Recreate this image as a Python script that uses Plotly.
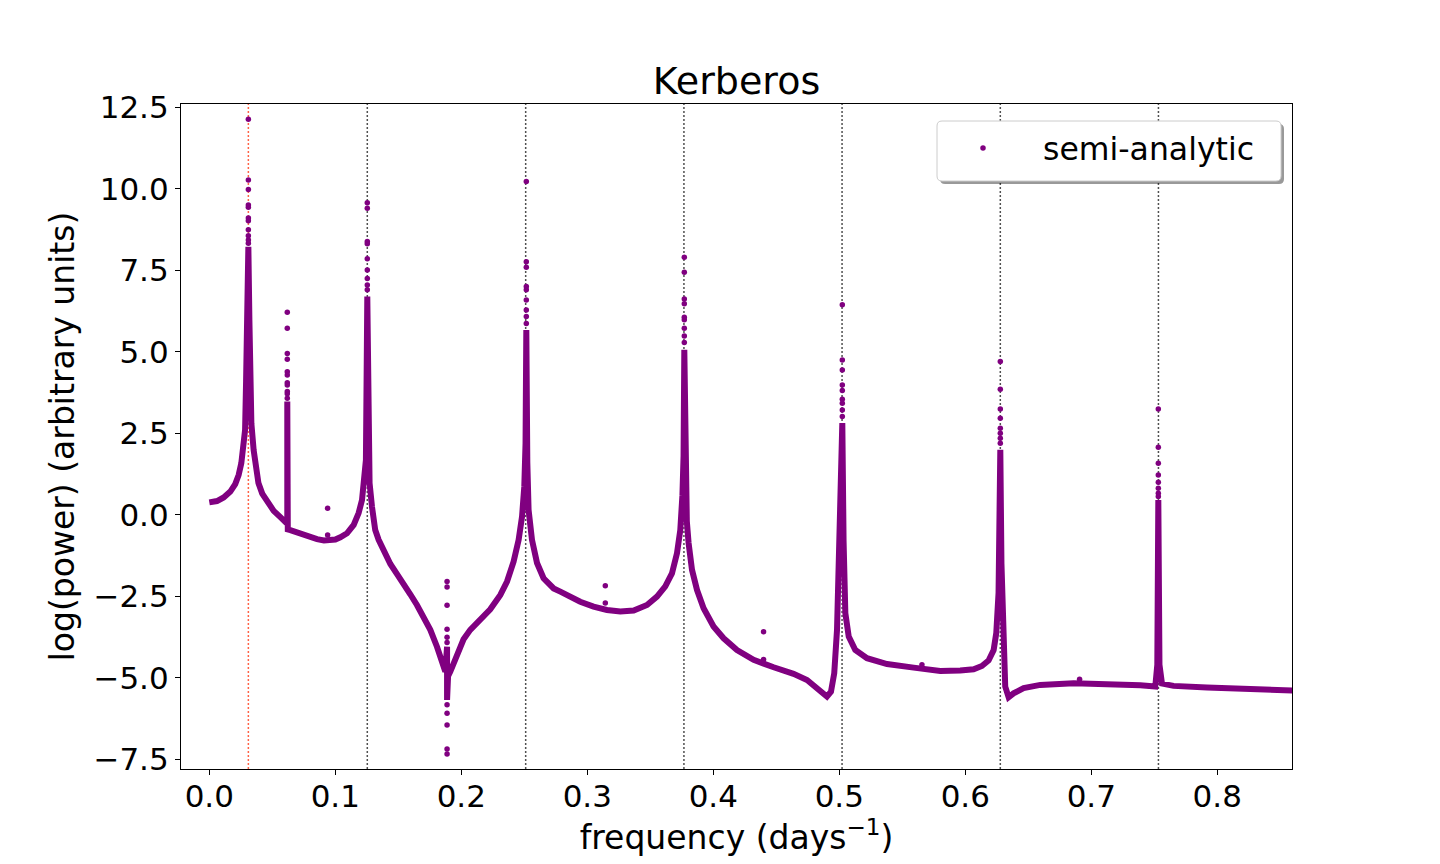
import plotly.graph_objects as go

# ---------------- data ----------------
# continuous spectrum (dense point band), frequency in days^-1, log(power)
curve_freq = [
    0.0000, 0.0061, 0.0114, 0.0167, 0.0206, 0.0233, 0.0254, 0.0272, 0.0284, 0.0292,
    0.0302, 0.0310, 0.0318, 0.0326, 0.0334, 0.0352, 0.0373, 0.0390, 0.0420, 0.0458,
    0.0511, 0.0560, 0.0603, 0.0619, 0.0619, 0.0623, 0.0643, 0.0700, 0.0749, 0.0800,
    0.0855, 0.0910, 0.0960, 0.1000, 0.1040, 0.1093, 0.1146, 0.1185, 0.1212, 0.1230,
    0.1243, 0.1254, 0.1264, 0.1272, 0.1291, 0.1317, 0.1344, 0.1383, 0.1437, 0.1490,
    0.1542, 0.1595, 0.1648, 0.1701, 0.1754, 0.1807, 0.1847, 0.1873, 0.1887, 0.1887,
    0.1895, 0.1913, 0.1940, 0.1979, 0.2018, 0.2071, 0.2151, 0.2230, 0.2310, 0.2363,
    0.2415, 0.2455, 0.2482, 0.2500, 0.2510, 0.2516, 0.2524, 0.2534, 0.2561, 0.2601,
    0.2653, 0.2733, 0.2786, 0.2865, 0.2944, 0.3050, 0.3156, 0.3262, 0.3368, 0.3474,
    0.3553, 0.3619, 0.3672, 0.3712, 0.3738, 0.3755, 0.3764, 0.3770, 0.3778, 0.3790,
    0.3804, 0.3831, 0.3871, 0.3923, 0.4002, 0.4082, 0.4188, 0.4320, 0.4479, 0.4637,
    0.4744, 0.4823, 0.4875, 0.4902, 0.4934, 0.4960, 0.4982, 0.4998, 0.5014, 0.5024,
    0.5034, 0.5048, 0.5075, 0.5127, 0.5220, 0.5379, 0.5590, 0.5802, 0.5960, 0.6066,
    0.6132, 0.6185, 0.6225, 0.6246, 0.6264, 0.6273, 0.6278, 0.6287, 0.6299, 0.6317,
    0.6344, 0.6383, 0.6463, 0.6595, 0.6860, 0.7125, 0.7389, 0.7508, 0.7524, 0.7532,
    0.7541, 0.7561, 0.7653, 0.7918, 0.8183, 0.8595,
]
curve_logp = [
    0.38, 0.42, 0.53, 0.71, 0.94, 1.22, 1.58, 2.09, 2.60, 4.10,
    6.00, 8.22, 6.00, 4.10, 2.80, 1.98, 1.48, 0.97, 0.65, 0.42,
    0.12, -0.06, -0.24, -0.28, 3.47, -0.45, -0.47, -0.55, -0.62, -0.70,
    -0.75, -0.79, -0.79, -0.76, -0.69, -0.57, -0.31, 0.05, 0.45, 0.97,
    1.68, 6.69, 1.80, 0.97, 0.25, -0.47, -0.77, -1.13, -1.51, -1.82,
    -2.10, -2.44, -2.77, -3.12, -3.53, -4.05, -4.51, -4.81, -4.05, -5.68,
    -4.95, -4.81, -4.56, -4.15, -3.82, -3.53, -3.23, -2.90, -2.46, -2.05,
    -1.44, -0.77, -0.06, 0.86, 2.20, 5.67, 1.60, 0.15, -0.77, -1.48,
    -1.95, -2.26, -2.36, -2.53, -2.67, -2.82, -2.92, -2.97, -2.94, -2.77,
    -2.51, -2.20, -1.80, -1.18, -0.47, 0.60, 1.80, 5.06, 1.20, -0.20,
    -0.87, -1.69, -2.31, -2.87, -3.43, -3.79, -4.15, -4.45, -4.68, -4.88,
    -5.07, -5.32, -5.53, -5.58, -5.43, -4.86, -3.53, -1.49, 0.50, 2.81,
    -0.80, -3.02, -3.74, -4.15, -4.40, -4.58, -4.69, -4.79, -4.78, -4.74,
    -4.64, -4.47, -4.15, -3.63, -2.40, 0.00, 1.99, -1.50, -3.84, -5.27,
    -5.60, -5.48, -5.32, -5.22, -5.17, -5.18, -5.23, -5.27, -4.60, 0.45,
    -4.60, -5.18, -5.25, -5.30, -5.34, -5.39,
]

# isolated points stacked at the spectral lines
spike_freqs = [0.0310, 0.0619, 0.0939, 0.1254, 0.1887, 0.2516, 0.3143,
               0.3770, 0.4399, 0.5024, 0.5656, 0.6278, 0.6907, 0.7532]
spike_values = [
    [12.13, 10.27, 9.98, 9.50, 9.43, 9.10, 9.02, 8.74, 8.56, 8.43, 8.33],
    [6.21, 5.72, 4.95, 4.77, 4.39, 4.29, 4.05, 3.98, 3.78, 3.71, 3.57],
    [0.20, -0.62],
    [9.57, 9.40, 8.38, 8.31, 7.85, 7.51, 7.25, 7.05, 6.90],
    [-2.05, -2.22, -2.78, -3.51, -3.76, -3.92, -5.83, -6.09, -6.45, -7.19, -7.34],
    [10.22, 7.76, 7.59, 7.00, 6.90, 6.59, 6.28, 6.08, 5.87],
    [-2.18, -2.71],
    [7.90, 7.44, 6.62, 6.47, 6.06, 5.98, 5.72, 5.48, 5.28],
    [-3.59, -4.44],
    [6.44, 4.75, 4.44, 3.98, 3.81, 3.54, 3.42, 3.21, 3.01],
    [-4.60],
    [4.70, 3.85, 3.24, 2.96, 2.65, 2.50, 2.35, 2.19],
    [-5.05],
    [3.24, 2.07, 1.58, 1.22, 1.00, 0.81, 0.66, 0.56],
]

# reference frequencies (dotted lines)
orbital_freq = 0.0310
harmonic_freqs = [0.1254, 0.2511, 0.3767, 0.5022, 0.6278, 0.7533]

x_ticks = [0.0, 0.1, 0.2, 0.3, 0.4, 0.5, 0.6, 0.7, 0.8]
y_ticks = [-7.5, -5.0, -2.5, 0.0, 2.5, 5.0, 7.5, 10.0, 12.5]

# ---------------- figure ----------------
PURPLE = "#800080"
FONT = "DejaVu Sans"

dot_x, dot_y = [], []
for f, vals in zip(spike_freqs, spike_values):
    for v in vals:
        dot_x.append(f)
        dot_y.append(v)

fig = go.Figure()
fig.add_trace(go.Scatter(
    x=curve_freq, y=curve_logp, mode="lines",
    line=dict(color=PURPLE, width=6, shape="linear"),
    showlegend=False, hoverinfo="skip",
))
fig.add_trace(go.Scatter(
    x=dot_x, y=dot_y, mode="markers", name="semi-analytic",
    marker=dict(color=PURPLE, size=5.5, line=dict(width=0)),
))

fig.add_vline(x=orbital_freq, line=dict(color="#ff6347", width=1.5, dash="2px,2px"),
              layer="below")
for f in harmonic_freqs:
    fig.add_vline(x=f, line=dict(color="#505050", width=1.5, dash="2px,2px"),
                  layer="below")

# legend frame with shadow (matplotlib style)
L, R = 181, 1292
T, B = 104, 769
W, H = R - L, B - T


def px(xp):
    return (xp - L) / W


def py(yp):
    return (B - yp) / H


def rounded(x0, y0, x1, y1, r=5):
    # pixel coords -> paper path with rounded corners
    rx, ry = r / W, r / H
    a, b, c, d = px(x0), py(y1), px(x1), py(y0)  # left, bottom, right, top
    return (f"M {a+rx},{b} L {c-rx},{b} Q {c},{b} {c},{b+ry} "
            f"L {c},{d-ry} Q {c},{d} {c-rx},{d} L {a+rx},{d} "
            f"Q {a},{d} {a},{d-ry} L {a},{b+ry} Q {a},{b} {a+rx},{b} Z")


fig.add_shape(type="path", xref="paper", yref="paper",
              path=rounded(940, 124, 1284, 184), fillcolor="rgba(0,0,0,0.4)",
              line=dict(width=0), layer="above")
fig.add_shape(type="path", xref="paper", yref="paper",
              path=rounded(937, 121, 1281, 181), fillcolor="white",
              line=dict(color="#cccccc", width=1), layer="above")

axis_common = dict(
    showline=True, linecolor="black", linewidth=1.2, mirror=True,
    ticks="outside", ticklen=5, tickwidth=1.2, tickcolor="black",
    showgrid=False, zeroline=False,
    tickfont=dict(family=FONT, size=31, color="black"),
)

fig.update_layout(
    width=1440, height=864,
    margin=dict(l=L, r=1440 - R, t=T, b=864 - B),
    paper_bgcolor="white", plot_bgcolor="white",
    font=dict(family=FONT, color="black"),
    title=dict(text="Kerberos", font=dict(family=FONT, size=38, color="black"),
               x=0.5, xref="paper", xanchor="center",
               y=1 - 81 / 864, yref="container", yanchor="middle"),
    xaxis=dict(range=[-0.02246, 0.8593], tickvals=x_ticks, tickformat=".1f",
               ticklabelstandoff=-5,
               title=dict(text="frequency (days<sup>−1</sup>)",
                          font=dict(family=FONT, size=33, color="black"),
                          standoff=3),
               **axis_common),
    yaxis=dict(range=[-7.80, 12.60], tickvals=y_ticks, tickformat=".1f",
               title=dict(text="log(power) (arbitrary units)",
                          font=dict(family=FONT, size=33, color="black"),
                          standoff=8),
               **axis_common),
    legend=dict(x=px(923), y=py(148), xanchor="left", yanchor="middle",
                bgcolor="rgba(0,0,0,0)", borderwidth=0, itemwidth=110,
                font=dict(family=FONT, size=31.5, color="black")),
)

fig.write_html("out.html", config={"displayModeBar": False},
               post_script="document.body.style.margin='0';")
